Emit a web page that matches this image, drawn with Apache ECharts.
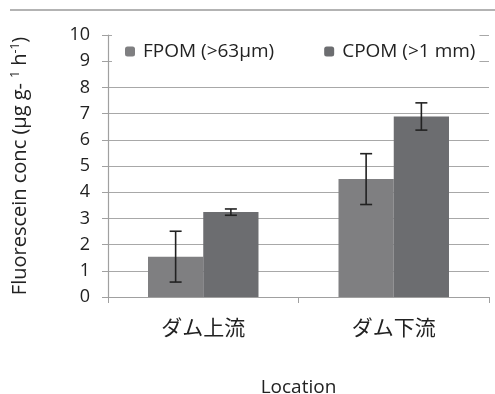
<!DOCTYPE html>
<html><head><meta charset="utf-8">
<script src="https://cdn.jsdelivr.net/npm/echarts@6/dist/echarts.min.js"></script>
<style>html,body{margin:0;padding:0;background:#fff}#c{width:495px;height:394px}</style>
</head><body><div id="c"></div>
<script>
const categories = ['ダム上流', 'ダム下流'];
const seriesNames = ['FPOM (>63μm)', 'CPOM (>1 mm)'];
const fpom = [1.54, 4.50];
const cpom = [3.24, 6.89];
const fpomErr = [0.97, 0.97];
const cpomErr = [0.12, 0.52];
const yTicks = [0,1,2,3,4,5,6,7,8,9,10];

const GAP = 0.42;
function errData(vals, errs, s) {
  return vals.map((v, i) => [i, v - errs[i], v + errs[i], s]);
}
function renderErr(params, api) {
  const i = api.value(0), lo = api.value(1), hi = api.value(2), s = api.value(3);
  const band = api.size([1, 0])[0];
  const bw = band * (1 - GAP) / 2;
  const off = s === 0 ? -bw / 2 : bw / 2;
  const p1 = api.coord([i, hi]), p2 = api.coord([i, lo]);
  const x = p1[0] + off, cap = 6;
  const st = { stroke: '#222', lineWidth: 1.6 };
  return { type: 'group', children: [
    { type: 'line', shape: { x1: x, y1: p1[1], x2: x, y2: p2[1] }, style: st },
    { type: 'line', shape: { x1: x - cap, y1: p1[1], x2: x + cap, y2: p1[1] }, style: st },
    { type: 'line', shape: { x1: x - cap, y1: p2[1], x2: x + cap, y2: p2[1] }, style: st }
  ]};
}

const chart = echarts.init(document.getElementById('c'));
chart.setOption({
  animation: false,
  textStyle: { fontFamily: 'Open Sans' },
  graphic: [{ type: 'line', shape: { x1: 10, y1: 10, x2: 495, y2: 10 }, style: { stroke: '#9a9a9a', lineWidth: 1.5 } }],
  grid: { left: 108, right: 6, top: 35, bottom: 97, outerBoundsMode: 'none', containLabel: false },
  legend: {
    data: seriesNames, left: 112, top: 29, itemWidth: 10, itemHeight: 10, itemGap: 50,
    width: 380,
    padding: [13, 4, 8, 13], backgroundColor: '#fff',
    textStyle: { fontSize: 19, color: '#222', fontFamily: 'Open Sans', padding: [0, 0, 0, 3] }
  },
  xAxis: {
    type: 'category', data: categories,
    name: 'Location', nameLocation: 'middle', nameGap: 81,
    nameTextStyle: { fontSize: 19, color: '#222', fontFamily: 'Open Sans' },
    axisLine: { lineStyle: { color: '#a0a0a0', width: 1.2 } },
    axisTick: { show: true, length: 6, lineStyle: { color: '#a0a0a0' } },
    axisLabel: { fontSize: 21, color: '#222', margin: 20, fontFamily: 'Noto Sans CJK JP' }
  },
  yAxis: {
    type: 'value', min: yTicks[0], max: yTicks[yTicks.length - 1], interval: 1,
    name: '{n|Fluorescein conc (μg g- }{s|1}{n| h}{s|-1}{n|)}',
    nameLocation: 'middle', nameRotate: 90, nameGap: 78,
    nameTextStyle: { rich: {
      n: { fontSize: 20, color: '#222', fontFamily: 'Open Sans' },
      s: { fontSize: 12, color: '#222', fontFamily: 'Open Sans', verticalAlign: 'top' }
    } },
    axisLine: { show: true, lineStyle: { color: '#a0a0a0', width: 1.2 } },
    axisTick: { show: true, length: 6, lineStyle: { color: '#a0a0a0' } },
    axisLabel: { fontSize: 18, color: '#222', margin: 18, fontFamily: 'Open Sans' },
    splitLine: { lineStyle: { color: '#a8a8a8', width: 1.2 } }
  },
  series: [
    { name: seriesNames[0], type: 'bar', data: fpom, barGap: '0%', barCategoryGap: (GAP * 100) + '%', itemStyle: { color: '#7f7f81' } },
    { name: seriesNames[1], type: 'bar', data: cpom, barGap: '0%', barCategoryGap: (GAP * 100) + '%', itemStyle: { color: '#6c6d70' } },
    { type: 'custom', renderItem: renderErr, data: errData(fpom, fpomErr, 0), z: 10, encode: { x: 0, y: [1, 2] } },
    { type: 'custom', renderItem: renderErr, data: errData(cpom, cpomErr, 1), z: 10, encode: { x: 0, y: [1, 2] } }
  ]
});
</script></body></html>
